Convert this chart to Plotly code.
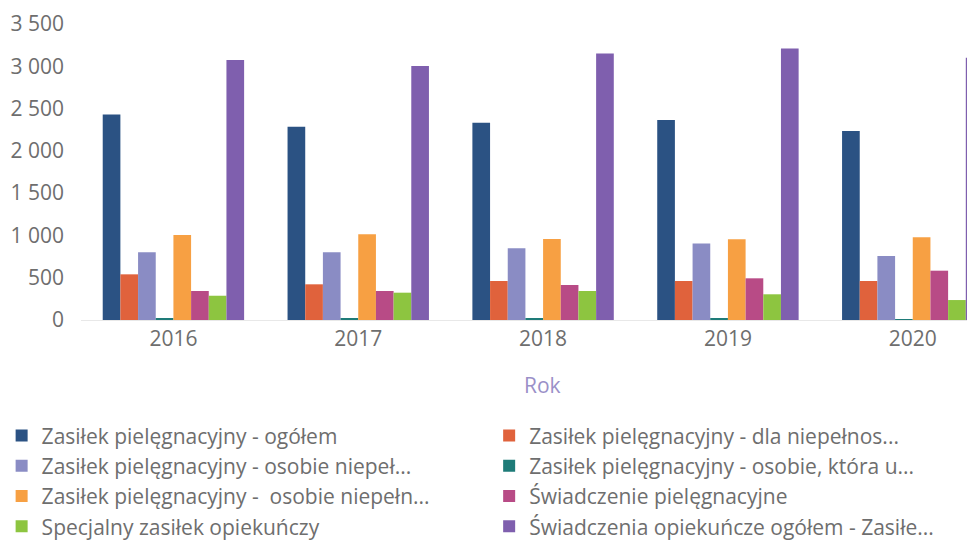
import plotly.graph_objects as go

years = ['2016', '2017', '2018', '2019', '2020']

series_names = [
    'Zasiłek pielęgnacyjny - ogółem',
    'Zasiłek pielęgnacyjny - dla niepełnos...',
    'Zasiłek pielęgnacyjny - osobie niepeł...',
    'Zasiłek pielęgnacyjny - osobie, która u...',
    'Zasiłek pielęgnacyjny -  osobie niepełn...',
    'Świadczenie pielęgnacyjne',
    'Specjalny zasiłek opiekuńczy',
    'Świadczenia opiekuńcze ogółem - Zasiłe...',
]

ogolem = [2430, 2285, 2332, 2364, 2234]
dla_niepelnosprawnego = [540, 422, 461, 461, 461]
osobie_niepel = [800, 800, 847, 906, 757]
osobie_ktora = [20, 20, 20, 20, 4]
osobie_niepeln = [1005, 1013, 957, 954, 977]
swiadczenie = [343, 343, 414, 493, 583]
specjalny = [287, 323, 343, 304, 236]
opiekuncze_ogolem = [3073, 3002, 3152, 3211, 3100]

values = [ogolem, dla_niepelnosprawnego, osobie_niepel, osobie_ktora,
          osobie_niepeln, swiadczenie, specjalny, opiekuncze_ogolem]

colors = ['#2b5283', '#e0623c', '#8a8cc4', '#1e7b78',
          '#f7a043', '#b84b86', '#8dc540', '#7f5fae']

fig = go.Figure()
for i, (name, vals, col) in enumerate(zip(series_names, values, colors)):
    # left legend column gets even items, right column odd items
    fig.add_trace(go.Bar(x=years, y=vals, name=name, marker_color=col,
                         marker_line_width=0,
                         legend='legend' if i % 2 == 0 else 'legend2'))

legend_style = dict(
    orientation='v', yanchor='top', xanchor='left',
    font=dict(size=21, color='#6e6e6e'),
    bgcolor='rgba(0,0,0,0)',
)

# page body adds ~8px offset, so margins are trimmed to compensate
fig.update_layout(
    width=975, height=540,
    margin=dict(l=73, r=0, t=16, b=228, autoexpand=False),
    paper_bgcolor='white', plot_bgcolor='white',
    font=dict(family='Open Sans', size=21, color='#6e6e6e'),
    separators=', ',
    barmode='group', bargap=0.235, bargroupgap=0,
    showlegend=True,
    legend=dict(x=-0.088, y=-0.322, **legend_style),
    legend2=dict(x=0.4525, y=-0.322, **legend_style),
)

fig.update_xaxes(
    type='category', range=[-0.5, 4.38], automargin=False,
    showline=True, linecolor='#e8e8e8', showgrid=False,
    tickfont=dict(size=21, color='#6e6e6e'), ticks='',
)
fig.update_yaxes(
    range=[0, 3500], dtick=500, tickformat=',d', automargin=False,
    showgrid=False, zeroline=False, ticklabelstandoff=16,
    tickfont=dict(size=21, color='#6e6e6e'), ticks='',
)

fig.add_annotation(text='Rok', xref='paper', yref='paper',
                   x=0.512, y=-0.22, yanchor='middle', showarrow=False,
                   font=dict(size=21, color='#9a90c8'))

fig.write_html("out.html")
